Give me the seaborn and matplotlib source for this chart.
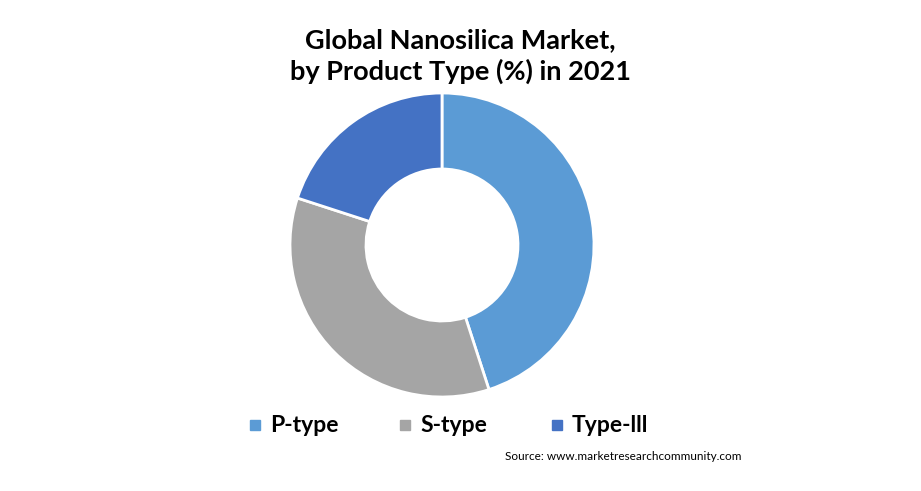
import matplotlib
matplotlib.use("Agg")
import matplotlib.pyplot as plt
import seaborn as sns

categories = ["P-type", "S-type", "Type-lll"]
values = [45, 35, 20]
colors = ["#5B9BD5", "#A5A5A5", "#4472C4"]
title = "Global Nanosilica Market,\nby Product Type (%) in 2021"
source = "Source: www.marketresearchcommunity.com"

sns.set_theme(style="white")
plt.rcParams['font.family'] = ['Lato', 'DejaVu Sans']

W, H = 921, 491
fig = plt.figure(figsize=(W / 100, H / 100), dpi=100)
cx, cy, r = 442, 245, 152
ax = fig.add_axes([(cx - r) / W, (H - cy - r) / H, 2 * r / W, 2 * r / H])
wedges, _ = ax.pie(values, colors=colors, startangle=90, counterclock=False,
                   radius=1.0, wedgeprops=dict(width=0.5, edgecolor="white", linewidth=2))
ax.set_xlim(-1.0, 1.0)
ax.set_ylim(-1.0, 1.0)
ax.axis("off")

fig.text(460 / W, 1 - 56 / H, title, ha="center", va="center", fontsize=19.5,
         fontweight="bold", color="black", linespacing=1.32)

leg_x = [255, 405, 557]
for x, lab, c in zip(leg_x, categories, colors):
    fig.patches.append(plt.Rectangle(((x - 5) / W, 1 - 430 / H), 10 / W, 10 / H,
                                     transform=fig.transFigure, color=c))
    fig.text((x + 15) / W, 1 - 425 / H, lab, ha="left", va="center",
             fontsize=16.5, fontweight="bold", color="black")

fig.text(505 / W, 1 - 457 / H, source, ha="left", va="center", fontsize=8.5, color="black")

fig.savefig("out.png", dpi=100, facecolor="white")
